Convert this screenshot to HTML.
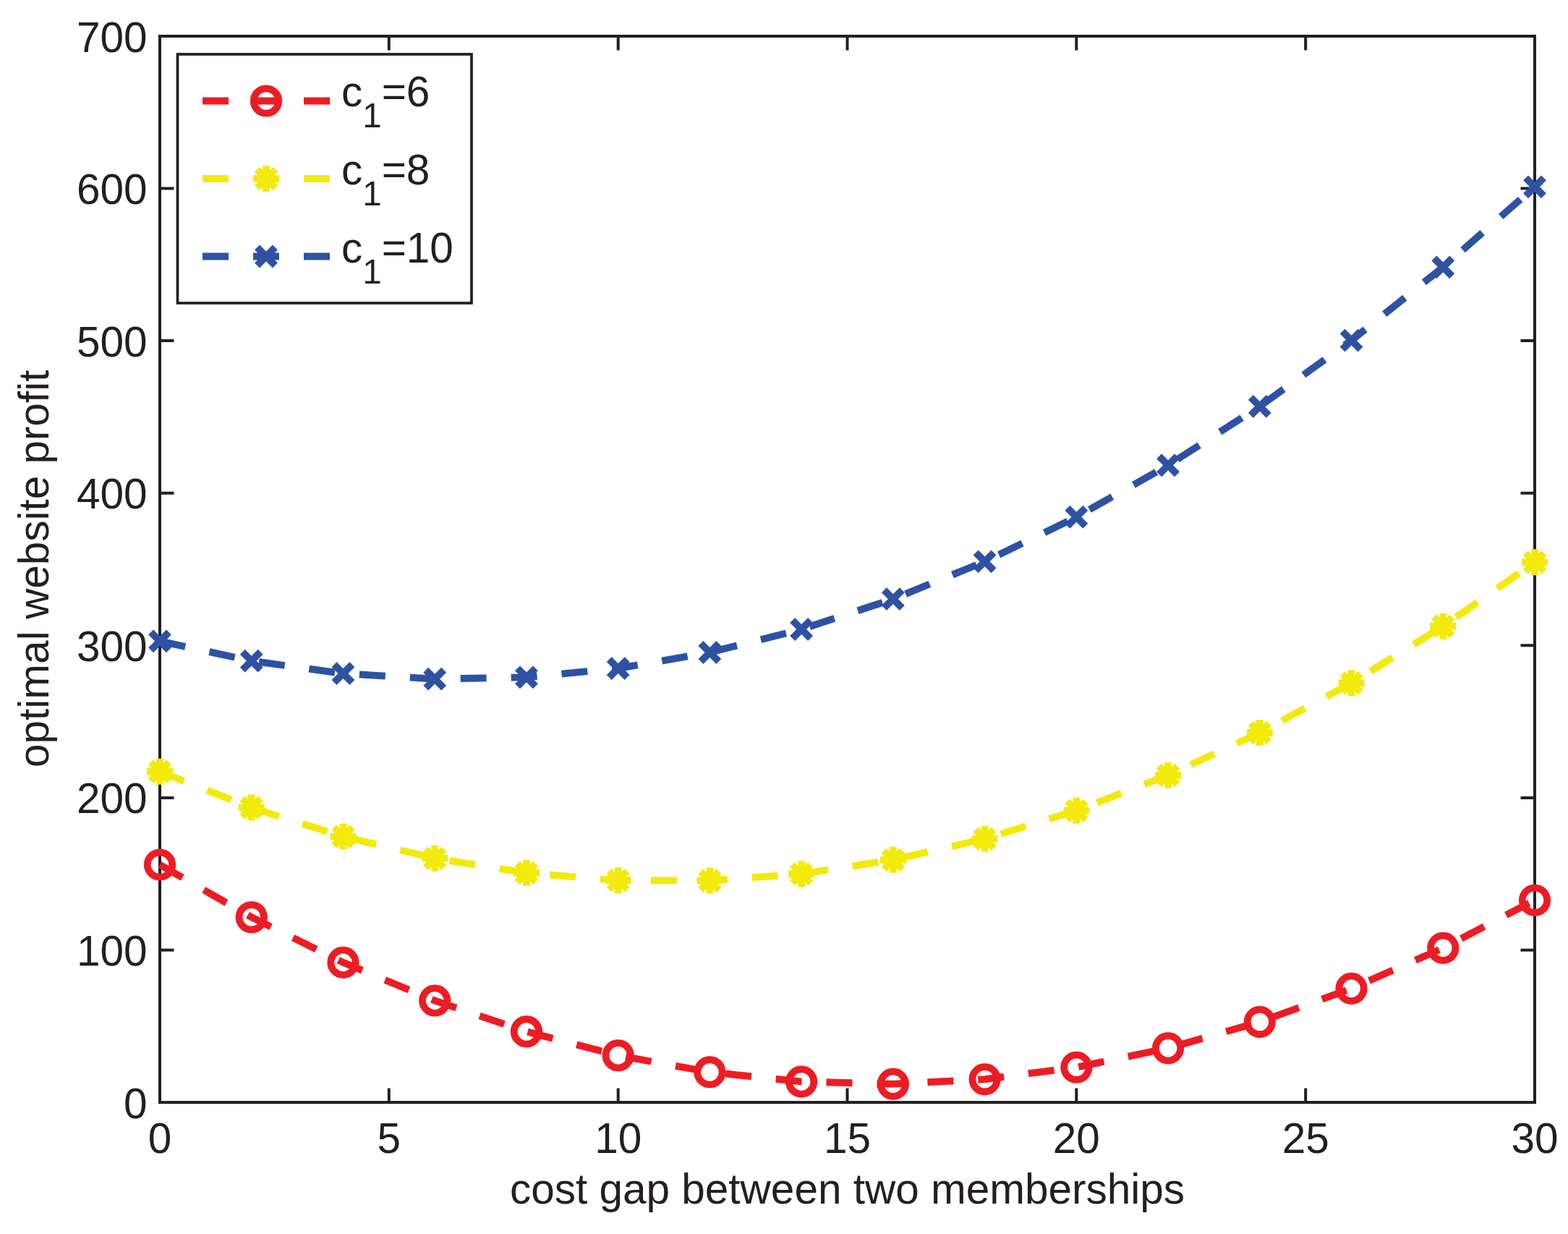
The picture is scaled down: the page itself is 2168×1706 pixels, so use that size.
<!DOCTYPE html>
<html><head><meta charset="utf-8"><title>optimal website profit vs cost gap</title><style>
html,body{margin:0;padding:0;background:#fff;}
svg{display:block}
text{font-family:"Liberation Sans",sans-serif;fill:#231f20}
</style></head><body>

<svg width="2168" height="1706" viewBox="0 0 2168 1706">
<rect x="0" y="0" width="2168" height="1706" fill="#fff"/>
<g stroke="#231f20" stroke-width="4.0" fill="none" stroke-linecap="square">
<rect x="221.0" y="50.0" width="1901.0" height="1474.0"/>
<path stroke-linecap="butt" d="M537.8 1524.0V1504.5M537.8 50.0V69.5M854.7 1524.0V1504.5M854.7 50.0V69.5M1171.5 1524.0V1504.5M1171.5 50.0V69.5M1488.3 1524.0V1504.5M1488.3 50.0V69.5M1805.2 1524.0V1504.5M1805.2 50.0V69.5M221.0 1313.4H240.5M2122.0 1313.4H2102.5M221.0 1102.9H240.5M2122.0 1102.9H2102.5M221.0 892.3H240.5M2122.0 892.3H2102.5M221.0 681.7H240.5M2122.0 681.7H2102.5M221.0 471.1H240.5M2122.0 471.1H2102.5M221.0 260.6H240.5M2122.0 260.6H2102.5"/>
</g>
<g font-size="58.5">
<text x="221.0" y="1593.5" text-anchor="middle">0</text>
<text x="537.8" y="1593.5" text-anchor="middle">5</text>
<text x="854.7" y="1593.5" text-anchor="middle">10</text>
<text x="1171.5" y="1593.5" text-anchor="middle">15</text>
<text x="1488.3" y="1593.5" text-anchor="middle">20</text>
<text x="1805.2" y="1593.5" text-anchor="middle">25</text>
<text x="2122.0" y="1593.5" text-anchor="middle">30</text>
<text x="203.5" y="1545.5" text-anchor="end">0</text>
<text x="203.5" y="1334.9" text-anchor="end">100</text>
<text x="203.5" y="1124.4" text-anchor="end">200</text>
<text x="203.5" y="913.8" text-anchor="end">300</text>
<text x="203.5" y="703.2" text-anchor="end">400</text>
<text x="203.5" y="492.6" text-anchor="end">500</text>
<text x="203.5" y="282.1" text-anchor="end">600</text>
<text x="203.5" y="71.5" text-anchor="end">700</text>
</g>
<path d="M221.00 1195.48 L347.73 1268.00 L474.47 1330.63 L601.20 1383.36 L727.93 1426.21 L854.67 1459.16 L981.40 1482.22 L1108.13 1495.38 L1234.87 1498.65 L1361.60 1492.03 L1488.33 1475.52 L1615.07 1449.12 L1741.80 1412.82 L1868.53 1366.62 L1995.27 1310.54 L2122.00 1244.56" fill="none" stroke="#ed1c24" stroke-width="9.8" stroke-dasharray="36 34" stroke-linejoin="miter"/>
<circle cx="221.00" cy="1195.48" r="17.2" fill="none" stroke="#ed1c24" stroke-width="9.8"/>
<circle cx="347.73" cy="1268.00" r="17.2" fill="none" stroke="#ed1c24" stroke-width="9.8"/>
<circle cx="474.47" cy="1330.63" r="17.2" fill="none" stroke="#ed1c24" stroke-width="9.8"/>
<circle cx="601.20" cy="1383.36" r="17.2" fill="none" stroke="#ed1c24" stroke-width="9.8"/>
<circle cx="727.93" cy="1426.21" r="17.2" fill="none" stroke="#ed1c24" stroke-width="9.8"/>
<circle cx="854.67" cy="1459.16" r="17.2" fill="none" stroke="#ed1c24" stroke-width="9.8"/>
<circle cx="981.40" cy="1482.22" r="17.2" fill="none" stroke="#ed1c24" stroke-width="9.8"/>
<circle cx="1108.13" cy="1495.38" r="17.2" fill="none" stroke="#ed1c24" stroke-width="9.8"/>
<circle cx="1234.87" cy="1498.65" r="17.2" fill="none" stroke="#ed1c24" stroke-width="9.8"/>
<circle cx="1361.60" cy="1492.03" r="17.2" fill="none" stroke="#ed1c24" stroke-width="9.8"/>
<circle cx="1488.33" cy="1475.52" r="17.2" fill="none" stroke="#ed1c24" stroke-width="9.8"/>
<circle cx="1615.07" cy="1449.12" r="17.2" fill="none" stroke="#ed1c24" stroke-width="9.8"/>
<circle cx="1741.80" cy="1412.82" r="17.2" fill="none" stroke="#ed1c24" stroke-width="9.8"/>
<circle cx="1868.53" cy="1366.62" r="17.2" fill="none" stroke="#ed1c24" stroke-width="9.8"/>
<circle cx="1995.27" cy="1310.54" r="17.2" fill="none" stroke="#ed1c24" stroke-width="9.8"/>
<circle cx="2122.00" cy="1244.56" r="17.2" fill="none" stroke="#ed1c24" stroke-width="9.8"/>
<path d="M221.00 1066.79 L347.73 1116.60 L474.47 1156.54 L601.20 1186.60 L727.93 1206.79 L854.67 1217.11 L981.40 1217.56 L1108.13 1208.13 L1234.87 1188.83 L1361.60 1159.66 L1488.33 1120.62 L1615.07 1071.70 L1741.80 1012.91 L1868.53 944.24 L1995.27 865.71 L2122.00 777.30" fill="none" stroke="#f2ea0b" stroke-width="9.8" stroke-dasharray="36 34" stroke-linejoin="miter"/>
<path d="M203.00 1066.79H239.00M221.00 1048.79V1084.79M208.27 1054.06L233.73 1079.51M208.27 1079.51L233.73 1054.06" stroke="#f2ea0b" stroke-width="9.8" fill="none"/>
<path d="M329.73 1116.60H365.73M347.73 1098.60V1134.60M335.01 1103.87L360.46 1129.33M335.01 1129.33L360.46 1103.87" stroke="#f2ea0b" stroke-width="9.8" fill="none"/>
<path d="M456.47 1156.54H492.47M474.47 1138.54V1174.54M461.74 1143.81L487.19 1169.26M461.74 1169.26L487.19 1143.81" stroke="#f2ea0b" stroke-width="9.8" fill="none"/>
<path d="M583.20 1186.60H619.20M601.20 1168.60V1204.60M588.47 1173.87L613.93 1199.33M588.47 1199.33L613.93 1173.87" stroke="#f2ea0b" stroke-width="9.8" fill="none"/>
<path d="M709.93 1206.79H745.93M727.93 1188.79V1224.79M715.21 1194.07L740.66 1219.52M715.21 1219.52L740.66 1194.07" stroke="#f2ea0b" stroke-width="9.8" fill="none"/>
<path d="M836.67 1217.11H872.67M854.67 1199.11V1235.11M841.94 1204.39L867.39 1229.84M841.94 1229.84L867.39 1204.39" stroke="#f2ea0b" stroke-width="9.8" fill="none"/>
<path d="M963.40 1217.56H999.40M981.40 1199.56V1235.56M968.67 1204.83L994.13 1230.29M968.67 1230.29L994.13 1204.83" stroke="#f2ea0b" stroke-width="9.8" fill="none"/>
<path d="M1090.13 1208.13H1126.13M1108.13 1190.13V1226.13M1095.41 1195.41L1120.86 1220.86M1095.41 1220.86L1120.86 1195.41" stroke="#f2ea0b" stroke-width="9.8" fill="none"/>
<path d="M1216.87 1188.83H1252.87M1234.87 1170.83V1206.83M1222.14 1176.11L1247.59 1201.56M1222.14 1201.56L1247.59 1176.11" stroke="#f2ea0b" stroke-width="9.8" fill="none"/>
<path d="M1343.60 1159.66H1379.60M1361.60 1141.66V1177.66M1348.87 1146.93L1374.33 1172.39M1348.87 1172.39L1374.33 1146.93" stroke="#f2ea0b" stroke-width="9.8" fill="none"/>
<path d="M1470.33 1120.62H1506.33M1488.33 1102.62V1138.62M1475.61 1107.89L1501.06 1133.35M1475.61 1133.35L1501.06 1107.89" stroke="#f2ea0b" stroke-width="9.8" fill="none"/>
<path d="M1597.07 1071.70H1633.07M1615.07 1053.70V1089.70M1602.34 1058.97L1627.79 1084.43M1602.34 1084.43L1627.79 1058.97" stroke="#f2ea0b" stroke-width="9.8" fill="none"/>
<path d="M1723.80 1012.91H1759.80M1741.80 994.91V1030.91M1729.07 1000.18L1754.53 1025.64M1729.07 1025.64L1754.53 1000.18" stroke="#f2ea0b" stroke-width="9.8" fill="none"/>
<path d="M1850.53 944.24H1886.53M1868.53 926.24V962.24M1855.81 931.52L1881.26 956.97M1855.81 956.97L1881.26 931.52" stroke="#f2ea0b" stroke-width="9.8" fill="none"/>
<path d="M1977.27 865.71H2013.27M1995.27 847.71V883.71M1982.54 852.98L2007.99 878.44M1982.54 878.44L2007.99 852.98" stroke="#f2ea0b" stroke-width="9.8" fill="none"/>
<path d="M2104.00 777.30H2140.00M2122.00 759.30V795.30M2109.27 764.57L2134.73 790.03M2109.27 790.03L2134.73 764.57" stroke="#f2ea0b" stroke-width="9.8" fill="none"/>
<path d="M221.00 886.38 L347.73 913.69 L474.47 931.11 L601.20 938.66 L727.93 936.32 L854.67 924.10 L981.40 901.99 L1108.13 870.01 L1234.87 828.14 L1361.60 776.38 L1488.33 714.75 L1615.07 643.23 L1741.80 561.83 L1868.53 470.54 L1995.27 369.37 L2122.00 258.32" fill="none" stroke="#2e52a3" stroke-width="9.8" stroke-dasharray="36 34" stroke-linejoin="miter"/>
<path d="M208.55 873.93L233.45 898.82M208.55 898.82L233.45 873.93" stroke="#2e52a3" stroke-width="9.8" fill="none"/>
<path d="M335.29 901.24L360.18 926.13M335.29 926.13L360.18 901.24" stroke="#2e52a3" stroke-width="9.8" fill="none"/>
<path d="M462.02 918.67L486.91 943.56M462.02 943.56L486.91 918.67" stroke="#2e52a3" stroke-width="9.8" fill="none"/>
<path d="M588.75 926.21L613.65 951.10M588.75 951.10L613.65 926.21" stroke="#2e52a3" stroke-width="9.8" fill="none"/>
<path d="M715.49 923.87L740.38 948.76M715.49 948.76L740.38 923.87" stroke="#2e52a3" stroke-width="9.8" fill="none"/>
<path d="M842.22 911.65L867.11 936.54M842.22 936.54L867.11 911.65" stroke="#2e52a3" stroke-width="9.8" fill="none"/>
<path d="M968.95 889.55L993.85 914.44M968.95 914.44L993.85 889.55" stroke="#2e52a3" stroke-width="9.8" fill="none"/>
<path d="M1095.69 857.56L1120.58 882.45M1095.69 882.45L1120.58 857.56" stroke="#2e52a3" stroke-width="9.8" fill="none"/>
<path d="M1222.42 815.69L1247.31 840.58M1222.42 840.58L1247.31 815.69" stroke="#2e52a3" stroke-width="9.8" fill="none"/>
<path d="M1349.15 763.94L1374.05 788.83M1349.15 788.83L1374.05 763.94" stroke="#2e52a3" stroke-width="9.8" fill="none"/>
<path d="M1475.89 702.30L1500.78 727.19M1475.89 727.19L1500.78 702.30" stroke="#2e52a3" stroke-width="9.8" fill="none"/>
<path d="M1602.62 630.78L1627.51 655.67M1602.62 655.67L1627.51 630.78" stroke="#2e52a3" stroke-width="9.8" fill="none"/>
<path d="M1729.35 549.38L1754.25 574.27M1729.35 574.27L1754.25 549.38" stroke="#2e52a3" stroke-width="9.8" fill="none"/>
<path d="M1856.09 458.09L1880.98 482.99M1856.09 482.99L1880.98 458.09" stroke="#2e52a3" stroke-width="9.8" fill="none"/>
<path d="M1982.82 356.93L2007.71 381.82M1982.82 381.82L2007.71 356.93" stroke="#2e52a3" stroke-width="9.8" fill="none"/>
<path d="M2109.55 245.88L2134.45 270.77M2109.55 270.77L2134.45 245.88" stroke="#2e52a3" stroke-width="9.8" fill="none"/>
<rect x="245.5" y="75.0" width="406.5" height="344.0" fill="#fff" stroke="#231f20" stroke-width="3.7"/>
<path d="M280 139.5H456" stroke="#ed1c24" stroke-width="9.8" stroke-dasharray="36 34" fill="none"/>
<circle cx="368.00" cy="139.50" r="17.2" fill="none" stroke="#ed1c24" stroke-width="9.8"/>
<text x="472" y="147.0" font-size="58.5">c<tspan font-size="47.5" dy="29">1</tspan><tspan dy="-29">=6</tspan></text>
<path d="M280 247.0H456" stroke="#f2ea0b" stroke-width="9.8" stroke-dasharray="36 34" fill="none"/>
<path d="M350.00 247.00H386.00M368.00 229.00V265.00M355.27 234.27L380.73 259.73M355.27 259.73L380.73 234.27" stroke="#f2ea0b" stroke-width="9.8" fill="none"/>
<text x="472" y="254.8" font-size="58.5">c<tspan font-size="47.5" dy="29">1</tspan><tspan dy="-29">=8</tspan></text>
<path d="M280 354.5H456" stroke="#2e52a3" stroke-width="9.8" stroke-dasharray="36 34" fill="none"/>
<path d="M355.55 342.05L380.45 366.95M355.55 366.95L380.45 342.05" stroke="#2e52a3" stroke-width="9.8" fill="none"/>
<text x="472" y="362.5" font-size="58.5">c<tspan font-size="47.5" dy="29">1</tspan><tspan dy="-29">=10</tspan></text>
<text x="1171.5" y="1664.3" font-size="58.5" text-anchor="middle">cost gap between two memberships</text>
<text transform="translate(67 786.2) rotate(-90)" x="0" y="0" font-size="58.5" text-anchor="middle">optimal website profit</text>
</svg>
</body></html>
